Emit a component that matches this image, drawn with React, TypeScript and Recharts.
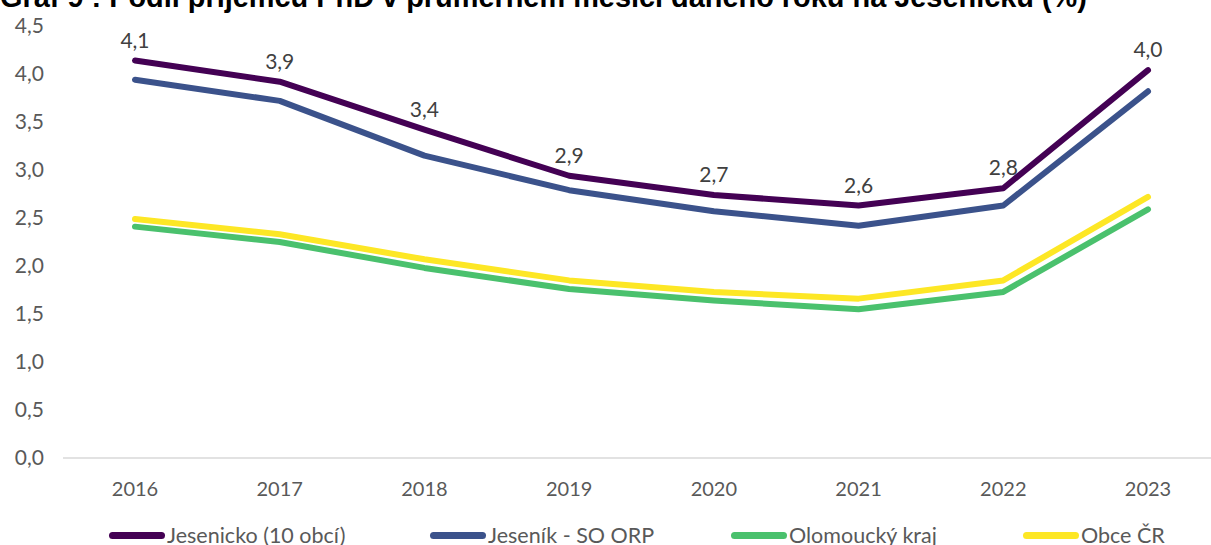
import React from 'react';
import { LineChart, Line, XAxis, YAxis, LabelList } from 'recharts';

const years = ['2016', '2017', '2018', '2019', '2020', '2021', '2022', '2023'];
const jesenicko = [4.14, 3.92, 3.42, 2.94, 2.74, 2.63, 2.81, 4.04];
const jesenikOrp = [3.94, 3.72, 3.15, 2.79, 2.57, 2.42, 2.63, 3.82];
const olomoucky = [2.41, 2.25, 1.98, 1.76, 1.64, 1.55, 1.73, 2.59];
const obceCR = [2.49, 2.33, 2.07, 1.85, 1.73, 1.66, 1.85, 2.72];
const yTicks = [0, 0.5, 1, 1.5, 2, 2.5, 3, 3.5, 4, 4.5];

const seriesNames = ['Jesenicko (10 obcí)', 'Jeseník - SO ORP', 'Olomoucký kraj', 'Obce ČR'];
const seriesColors = ['#440154', '#3B528B', '#4AC16D', '#FDE725'];
const titleText = 'Graf 9 : Podíl příjemců PnD v průměrném měsíci daného roku na Jesenicku (%)';

const data = years.map((y, i) => ({
  year: y,
  s0: jesenicko[i],
  s1: jesenikOrp[i],
  s2: olomoucky[i],
  s3: obceCR[i],
}));

const fmt = (v: number) => Number(v).toFixed(1).replace('.', ',');
const FONT = 'Lato, "Open Sans", sans-serif';

const legendX = [109, 430, 731, 1023];

export default function App() {
  return (
    <div style={{ position: 'fixed', left: 0, top: 0, width: 1211, height: 545, overflow: 'hidden', background: '#fff' }}>
      <div
        style={{
          position: 'absolute',
          left: 0,
          top: -17,
          fontFamily: '"Liberation Sans", Arial, sans-serif',
          fontWeight: 'bold',
          fontSize: 28.9,
          color: '#000',
          whiteSpace: 'nowrap',
          lineHeight: '29px',
        }}
      >
        {titleText}
      </div>
      <div style={{ position: 'absolute', left: 0, top: 0 }}>
        <LineChart width={1240} height={508} data={data} margin={{ top: 26, right: 20, bottom: 10, left: 0 }}>
          <XAxis
            dataKey="year"
            height={40}
            padding={{ left: 72, right: 72 }}
            axisLine={{ stroke: '#D9D9D9', strokeWidth: 1.5 }}
            tickLine={false}
            tick={{ fill: '#595959', fontSize: 20, fontFamily: FONT }}
            tickMargin={18}
          />
          <YAxis
            width={63}
            domain={[0, 4.5]}
            ticks={yTicks}
            interval={0}
            axisLine={false}
            tickLine={false}
            tickFormatter={fmt}
            tick={{ fill: '#595959', fontSize: 21, fontFamily: FONT }}
            tickMargin={13}
          />
          <Line dataKey="s3" name={seriesNames[3]} stroke={seriesColors[3]} strokeWidth={6} dot={false} strokeLinecap="round" strokeLinejoin="round" isAnimationActive={false} />
          <Line dataKey="s2" name={seriesNames[2]} stroke={seriesColors[2]} strokeWidth={6} dot={false} strokeLinecap="round" strokeLinejoin="round" isAnimationActive={false} />
          <Line dataKey="s1" name={seriesNames[1]} stroke={seriesColors[1]} strokeWidth={6} dot={false} strokeLinecap="round" strokeLinejoin="round" isAnimationActive={false} />
          <Line dataKey="s0" name={seriesNames[0]} stroke={seriesColors[0]} strokeWidth={6} dot={false} strokeLinecap="round" strokeLinejoin="round" isAnimationActive={false}>
            <LabelList dataKey="s0" position="top" offset={13} formatter={fmt} fill="#404040" fontSize={21} fontFamily={FONT} />
          </Line>
        </LineChart>
      </div>
      <div style={{ position: 'absolute', left: 0, top: 521, width: 1211, height: 30 }}>
        {seriesNames.map((n, i) => (
          <div
            key={n}
            style={{
              position: 'absolute',
              left: legendX[i],
              top: 0,
              height: 28,
              display: 'flex',
              alignItems: 'center',
              fontFamily: FONT,
              fontSize: 21.5,
              color: '#595959',
              whiteSpace: 'nowrap',
            }}
          >
            <span style={{ display: 'inline-block', width: 56, height: 7, borderRadius: 3.5, background: seriesColors[i], marginRight: 2 }} />
            <span>{n}</span>
          </div>
        ))}
      </div>
    </div>
  );
}
